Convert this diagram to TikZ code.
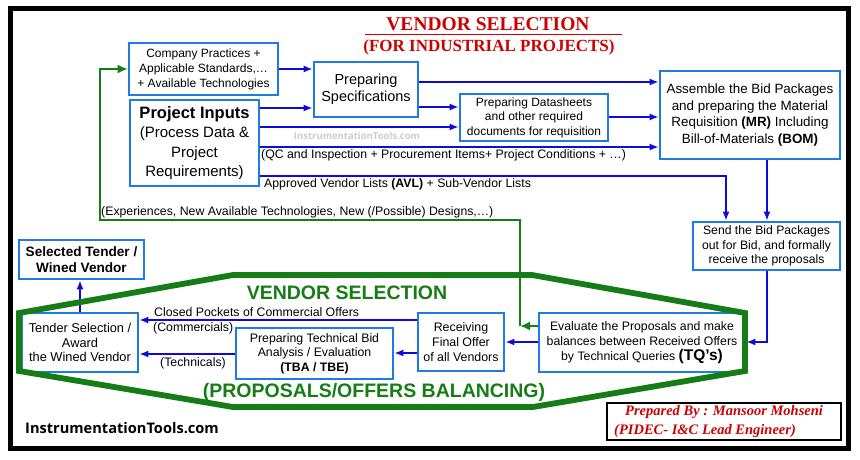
\documentclass[tikz,border=0pt]{standalone}
\usepackage{fontspec}
\setmainfont{Liberation Sans}
\newfontfamily\serifT{Liberation Serif}
\newfontfamily\wmfont{Open Sans}
\usetikzlibrary{arrows.meta}
\definecolor{boxblue}{RGB}{30,122,228}
\definecolor{arrblue}{RGB}{12,12,215}
\definecolor{grn}{RGB}{22,125,22}
\definecolor{ttlred}{RGB}{205,0,0}
\newcommand{\fs}[2]{\fontsize{#1}{#2}\selectfont}
\begin{document}
\begin{tikzpicture}[x=1pt,y=-1pt,
  box/.style={draw=boxblue, line width=2.6pt, fill=white, inner sep=0pt, align=center},
  conn/.style={draw=arrblue, line width=1.7pt, -{Latex[length=9pt,width=7pt]}},
  plain/.style={draw=arrblue, line width=1.7pt},
  grnarr/.style={draw=grn, line width=2.8pt, -{Latex[length=10pt,width=9pt]}},
  lbl/.style={inner sep=0pt, font=\fs{12.3}{14}},
  gtitle/.style={text=grn, font=\fs{19.5}{22}\bfseries, inner sep=0pt}]
\useasboundingbox (0,0) rectangle (860,460);
\fill[white] (0,0) rectangle (860,460);
% outer frame
\draw[line width=5pt, black] (10,9) rectangle (848,448);

% title
\node[text=ttlred, font=\serifT\fs{19.5}{22}\bfseries, inner sep=0pt] (ttl1) at (488,24) {VENDOR SELECTION};
\draw[ttlred, line width=1.6pt] (365,34.5) -- (622,34.5);
\node[text=ttlred, font=\serifT\fs{17}{20}\bfseries, inner sep=0pt] (ttl2) at (489,47) {(FOR INDUSTRIAL PROJECTS)};

% boxes
\node[box, minimum width=149, minimum height=52, font=\fs{12}{15}] (comp) at (203.5,69) {Company Practices +\\Applicable Standards,\ldots\\+ Available Technologies};
\node[box, minimum width=104, minimum height=55, font=\fs{14.5}{16.5}] (spec) at (366,89.5) {Preparing\\Specifications};
\node[box, minimum width=129, minimum height=86, font=\fs{15}{19.5}] (inp) at (194.5,143) {{\fs{16.5}{19.5}\bfseries Project Inputs}\\(Process Data \&\\Project\\Requirements)};
\node[box, minimum width=148, minimum height=47, font=\fs{12}{14.5}] (dat) at (534,117.5) {Preparing Datasheets\\and other required\\documents for requisition};
\node[box, minimum width=180, minimum height=88, font=\fs{13.4}{16.7}] (asm) at (750,115) {Assemble the Bid Packages\\and preparing the Material\\Requisition \textbf{(MR)} Including\\Bill-of-Materials \textbf{(BOM)}};
\node[box, minimum width=147, minimum height=48, font=\fs{12.2}{14.5}] (send) at (766.5,246) {Send the Bid Packages\\out for Bid, and formally\\receive the proposals};
\node[box, minimum width=206, minimum height=59, font=\fs{12.3}{15}] (eval) at (642,342.5) {Evaluate the Proposals and make\\balances between Received Offers\\by Technical Queries {\fs{15.5}{15}\bfseries (TQ’s)}};
\node[box, minimum width=86, minimum height=58, font=\fs{12.4}{14.8}] (recv) at (461,342) {Receiving\\Final Offer\\of all Vendors};
\node[box, minimum width=157, minimum height=51, font=\fs{12.3}{14.5}] (tba) at (314.5,353.5) {Preparing Technical Bid\\Analysis / Evaluation\\{\bfseries (TBA / TBE)}};
\node[box, minimum width=116, minimum height=59, font=\fs{12.8}{14.5}] (tend) at (80,342.5) {Tender Selection /\\Award\\the Wined Vendor};
\node[box, minimum width=125, minimum height=39, font=\fs{13.6}{16}\bfseries] (sel) at (81.5,259.5) {Selected Tender /\\Wined Vendor};

% watermark
\node[text=black!20, font=\wmfont\fs{9.5}{11}\bfseries, inner sep=0pt] (wm) at (357,136) {InstrumentationTools.com};

% blue connectors
\draw[conn] (comp.east |- 0,69) -- (spec.west |- 0,69);
\draw[conn] (inp.east |- 0,108) -- (spec.west |- 0,108);
\draw[conn] (spec.east |- 0,82) -- (asm.west |- 0,82);
\draw[conn] (spec.east |- 0,107) -- (dat.west |- 0,107);
\draw[conn] (inp.east |- 0,127) -- (dat.west |- 0,127);
\draw[conn] (dat.east |- 0,117) -- (asm.west |- 0,117);
\draw[conn] (inp.east |- 0,147) -- (asm.west |- 0,147);
\node[lbl, anchor=west] (qc) at (261,155) {(QC and Inspection + Procurement Items+ Project Conditions + \ldots)};
\draw[conn] (inp.east |- 0,176) -| (send.north -| 726,0);
\node[lbl, anchor=west] (avl) at (264,184) {Approved Vendor Lists \textbf{(AVL)} + Sub-Vendor Lists};
\draw[conn] (asm.south -| 767,0) -- (send.north -| 767,0);
\draw[conn] (send.south -| 767,0) |- (eval.east |- 0,342);
\draw[conn] (eval.west |- 0,342) -- (recv.east |- 0,342);
\draw[conn] (recv.west |- 0,353) -- (tba.east |- 0,353);
\draw[conn] (tba.west |- 0,354) -- (tend.east |- 0,354);
\node[lbl] (tech) at (193,363) {(Technicals)};
\draw[conn] (recv.west |- 0,320) -- (tend.east |- 0,320);
\node[lbl, anchor=west] (cpo) at (154,312) {Closed Pockets of Commercial Offers};
\node[lbl, anchor=west] (com) at (153,328) {(Commercials)};
\draw[conn] (tend.north) -- (sel.south -| tend.north);

% green feedback
\coordinate (g1) at (520,326);
\draw[grnarr] (eval.west |- g1) -- (g1);
\draw[grnarr] (g1) -- (520,220) -- (100,220) -- (100,69) -- (comp.west |- 0,69);
\node[lbl, anchor=west] (exp) at (101,212) {(Experiences, New Available Technologies, New (/Possible) Designs,\ldots)};

% green octagon
\draw[grn, line width=5.8pt, line join=miter] (19,313) -- (233,275) -- (532,275) -- (745,313) -- (745,371) -- (533,407) -- (233,407) -- (19,371) -- cycle;
\node[gtitle] (vs) at (347,293) {VENDOR SELECTION};
\node[gtitle] (pob) at (374,392) {(PROPOSALS/OFFERS BALANCING)};

% bottom watermark
\node[font=\wmfont\fs{14.6}{17}\bfseries, inner sep=0pt] (wm2) at (122,428) {InstrumentationTools.com};

% prepared by
\node[draw=black, line width=1.6pt, minimum width=234, minimum height=37, inner sep=0pt] (prep) at (724,421.5) {};
\node[text=ttlred, font=\serifT\fs{14.5}{16}\bfseries\itshape, inner sep=0pt, anchor=west] (p1) at (625,412) {Prepared By : Mansoor Mohseni};
\node[text=ttlred, font=\serifT\fs{14.5}{16}\bfseries\itshape, inner sep=0pt, anchor=west] (p2) at (614,431) {(PIDEC- I\&C Lead Engineer)};
\end{tikzpicture}
\end{document}
